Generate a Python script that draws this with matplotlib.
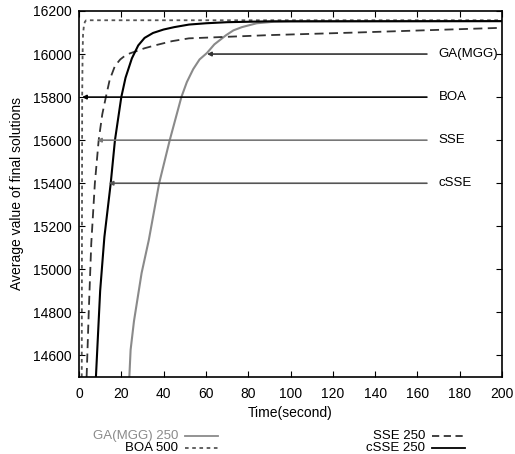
import matplotlib
matplotlib.use("Agg")
import matplotlib.pyplot as plt
from matplotlib.lines import Line2D

plt.rcParams['font.family'] = ['Liberation Sans', 'DejaVu Sans']

# ---- data ----
ga_t = [23.8, 24.4, 26.0, 29.6, 33.0, 37.9, 42.9, 48.4, 51.0, 54.0, 57.0, 60.5, 64.0, 69.6, 73.0, 77.0, 84.0, 92.0, 100.0, 200.0]
ga_v = [14500, 14626, 14760, 14983, 15136, 15400, 15600, 15800, 15870, 15930, 15975, 16005, 16045, 16088, 16110, 16125, 16143, 16150, 16152, 16153]

boa_t = [1.3, 1.5, 1.7, 1.9, 2.3, 2.8, 3.4, 200.0]
boa_v = [14500, 15800, 16000, 16090, 16130, 16150, 16157, 16157]

sse_t = [3.6, 4.6, 5.8, 7.5, 9.3, 11.0, 12.7, 14.5, 17.0, 19.5, 21.7, 24.0, 27.0, 31.0, 36.6, 44.0, 52.0, 90.0, 131.0, 200.0]
sse_v = [14500, 14800, 15120, 15400, 15600, 15720, 15800, 15880, 15945, 15975, 15992, 16003, 16013, 16027, 16042, 16060, 16073, 16088, 16100, 16122]

csse_t = [8.0, 10.0, 12.0, 15.0, 17.0, 20.0, 22.0, 25.0, 28.0, 31.0, 35.0, 40.0, 45.0, 52.0, 60.0, 70.0, 90.0, 200.0]
csse_v = [14500, 14900, 15150, 15400, 15600, 15800, 15890, 15980, 16040, 16075, 16098, 16114, 16125, 16137, 16143, 16148, 16152, 16153]

ann_labels = ["GA(MGG)", "BOA", "SSE", "cSSE"]
ann_targets_t = [60.5, 1.4, 8.5, 14.0]
ann_targets_v = [16000, 15800, 15600, 15400]
ann_colors = ["#333333", "#000000", "#777777", "#555555"]

legend_labels = ["GA(MGG) 250", "BOA 500", "SSE 250", "cSSE 250"]

x_ticks = list(range(0, 201, 20))
y_ticks = list(range(14600, 16201, 200))

# ---- figure ----
W, H = 515, 454
fig = plt.figure(figsize=(W / 100, H / 100), dpi=100)
ax = fig.add_axes([79 / W, 1 - 377 / H, (502 - 79) / W, (377 - 11) / H])

c_ga = "#8a8a8a"
c_boa = "#555555"
c_sse = "#333333"
c_csse = "#000000"

ax.plot(ga_t, ga_v, color=c_ga, lw=1.5)
ax.plot(boa_t, boa_v, color=c_boa, lw=1.3, dashes=(2, 2))
ax.plot(sse_t, sse_v, color=c_sse, lw=1.3, dashes=(5, 3))
ax.plot(csse_t, csse_v, color=c_csse, lw=1.5)

ax.set_xlim(0, 200)
ax.set_ylim(14500, 16200)
ax.set_xticks(x_ticks)
ax.set_yticks(y_ticks)
ax.tick_params(direction='in', top=True, right=True, labelsize=10, length=4, width=0.8)
ax.tick_params(axis='y', pad=5)
ax.tick_params(axis='x', pad=7)
for s in ax.spines.values():
    s.set_linewidth(1.2)

ax.set_xlabel("Time(second)", fontsize=10, labelpad=4)
ax.set_ylabel("Average value of final solutions", fontsize=10, labelpad=7)

for lab, tt, vv, col in zip(ann_labels, ann_targets_t, ann_targets_v, ann_colors):
    ax.annotate("", xy=(tt, vv), xytext=(164.5, vv),
                arrowprops=dict(arrowstyle='-|>', color=col, lw=1.2,
                                mutation_scale=6, shrinkA=0, shrinkB=0))
    ax.text(170, vv, lab, fontsize=9.5, va='center', ha='left')

# ---- legend below ----
def leg_entry(xr, ly, label, color, tcolor, dashes):
    fig.text(xr / W, 1 - ly / H, label, ha='right', va='center', fontsize=9.5, color=tcolor)
    ln = Line2D([(xr + 7) / W, (xr + 40) / W], [1 - ly / H, 1 - ly / H],
                transform=fig.transFigure, color=color, lw=1.3)
    if dashes:
        ln.set_dashes(dashes)
    fig.add_artist(ln)

leg_entry(178, 436, legend_labels[0], c_ga, c_ga, None)
leg_entry(178, 448, legend_labels[1], c_boa, "#000000", (2, 2))
leg_entry(425, 436, legend_labels[2], c_sse, "#000000", (4, 2.5))
leg_entry(425, 448, legend_labels[3], c_csse, "#000000", None)

fig.savefig("out.png", dpi=100)
